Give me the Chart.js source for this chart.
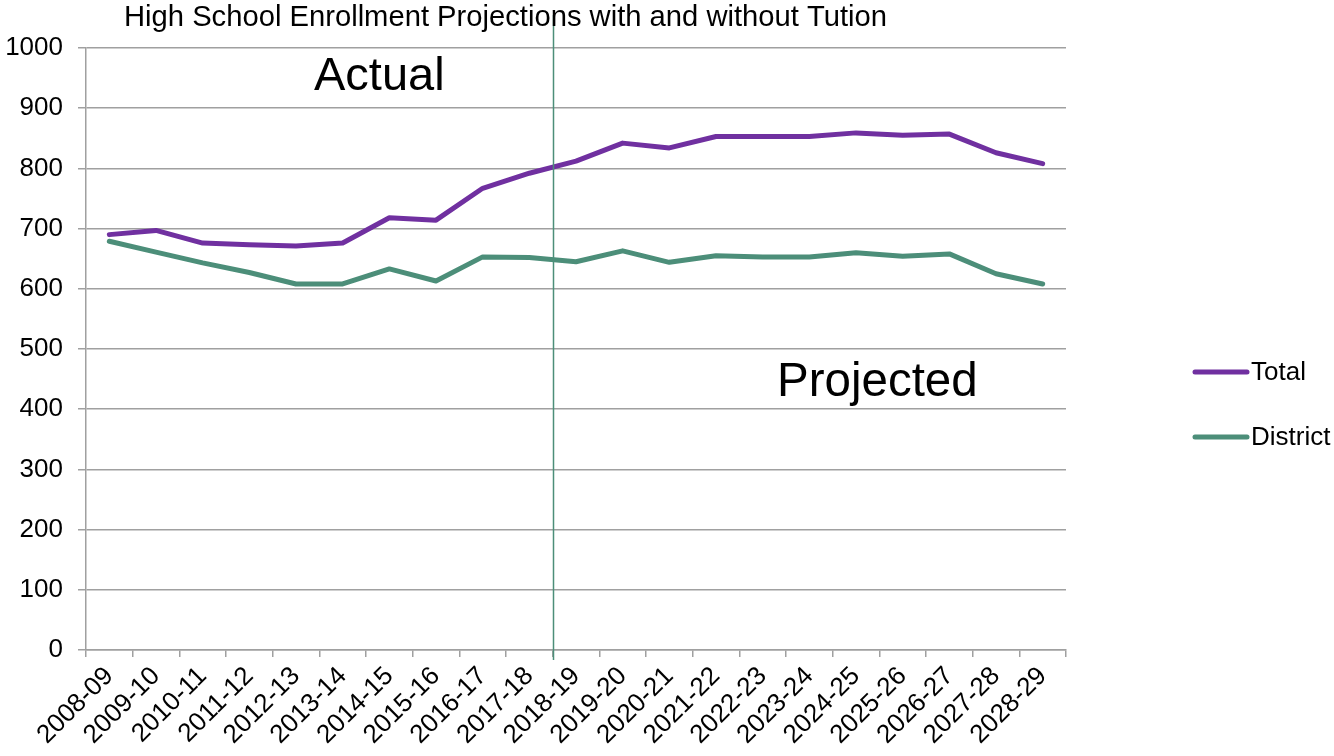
<!DOCTYPE html>
<html>
<head>
<meta charset="utf-8">
<script src="https://cdn.jsdelivr.net/npm/chart.js@4"></script>
<style>
html,body{margin:0;padding:0;background:#fff;}
#wrap{position:relative;width:1334px;height:756px;}
</style>
</head>
<body>
<div id="wrap"><canvas id="c" width="1334" height="756"></canvas></div>
<script>
const categories = ["2008-09","2009-10","2010-11","2011-12","2012-13","2013-14","2014-15","2015-16","2016-17","2017-18","2018-19","2019-20","2020-21","2021-22","2022-23","2023-24","2024-25","2025-26","2026-27","2027-28","2028-29"];
const totalValues = [690, 697, 676, 673, 671, 676, 718, 714, 767, 792, 812, 842, 834, 853, 853, 853, 859, 855, 857, 826, 808];
const districtValues = [679, 661, 643, 627, 608, 608, 633, 613, 653, 652, 645, 663, 644, 655, 653, 653, 660, 654, 658, 625, 608];
const seriesNames = ["Total", "District"];
const titleText = "High School Enrollment Projections with and without Tution";
const annotationTexts = ["Actual", "Projected"];
const dividerAfterIndex = 9; // line between 2017-18 and 2018-19

const FONT = "'Liberation Sans', Arial, sans-serif";
const PURPLE = "#7030A0";
const GREEN = "#4C8E79";
const GRID = "#A0A0A0";

const extras = {
  id: 'extras',
  afterDatasetsDraw(chart) {
    const ctx = chart.ctx;
    const xs = chart.scales.x;
    ctx.save();
    // divider
    const xd = Math.round(xs.getPixelForValue(dividerAfterIndex + 0.5)) + 0.5;
    ctx.strokeStyle = GREEN;
    ctx.lineWidth = 1.5;
    ctx.beginPath();
    ctx.moveTo(xd, 15);
    ctx.lineTo(xd, 660);
    ctx.stroke();
    // title
    ctx.fillStyle = "#000";
    ctx.textBaseline = "alphabetic";
    ctx.textAlign = "left";
    ctx.font = "29.2px " + FONT;
    ctx.fillText(titleText, 124, 26);
    // annotations
    ctx.font = "47px " + FONT;
    ctx.fillText(annotationTexts[0], 314, 90);
    ctx.font = "47.5px " + FONT;
    ctx.fillText(annotationTexts[1], 777, 396);
    // legend
    const items = [[seriesNames[0], PURPLE, 372], [seriesNames[1], GREEN, 437]];
    ctx.font = "26px " + FONT;
    ctx.textBaseline = "middle";
    items.forEach(([name, col, y]) => {
      ctx.strokeStyle = col;
      ctx.lineWidth = 5;
      ctx.lineCap = "round";
      ctx.beginPath();
      ctx.moveTo(1195, y);
      ctx.lineTo(1247, y);
      ctx.stroke();
      ctx.fillStyle = "#000";
      ctx.fillText(name, 1251, y + 1);
    });
    ctx.restore();
  }
};

new Chart(document.getElementById('c'), {
  type: 'line',
  data: {
    labels: categories,
    datasets: [
      { label: seriesNames[0], data: totalValues, borderColor: PURPLE, backgroundColor: PURPLE, borderWidth: 5, pointRadius: 0, tension: 0, borderJoinStyle: 'round', borderCapStyle: 'round' },
      { label: seriesNames[1], data: districtValues, borderColor: GREEN, backgroundColor: GREEN, borderWidth: 5, pointRadius: 0, tension: 0, borderJoinStyle: 'round', borderCapStyle: 'round' }
    ]
  },
  options: {
    responsive: false,
    animation: false,
    layout: { padding: { left: 0, top: 48, right: 268, bottom: 0 } },
    plugins: { legend: { display: false }, title: { display: false }, tooltip: { enabled: false } },
    scales: {
      x: {
        offset: true,
        grid: { display: true, drawOnChartArea: false, drawTicks: true, tickLength: 7, offset: true, color: GRID, lineWidth: 1.5 },
        border: { display: true, color: GRID, width: 1.5 },
        ticks: { color: "#000", font: { family: FONT, size: 26 }, maxRotation: 45, minRotation: 45, autoSkip: false, padding: 4 },
        afterFit(scale) { scale.height = 106; }
      },
      y: {
        min: 0, max: 1000,
        ticks: { stepSize: 100, color: "#000", font: { family: FONT, size: 26 }, padding: 15, callback: (v) => String(v) },
        grid: { color: GRID, lineWidth: 1.5, tickLength: 8 },
        border: { display: true, color: GRID, width: 1.5 },
        afterFit(scale) { scale.width = 86; }
      }
    }
  },
  plugins: [extras]
});
</script>
</body>
</html>
